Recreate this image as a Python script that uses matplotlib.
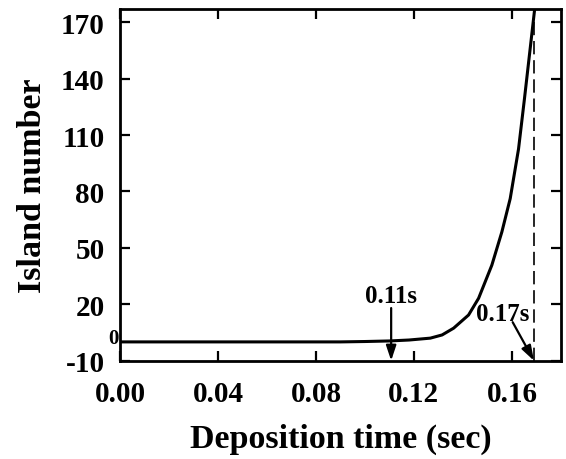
import matplotlib
matplotlib.use("Agg")
import matplotlib.pyplot as plt

# Data
time_s = [0.0, 0.05, 0.09, 0.10, 0.11, 0.118, 0.1267, 0.1315, 0.1362, 0.1423,
          0.1464, 0.1518, 0.1559, 0.1593, 0.1627, 0.1651, 0.1692]
islands = [0, 0, 0, 0.2, 0.5, 1.0, 2.0, 3.7, 7.3, 14.3,
           23.2, 40.8, 58.5, 76.2, 102.6, 129.1, 176]
x_ticks = [0.00, 0.04, 0.08, 0.12, 0.16]
x_tick_labels = ["0.00", "0.04", "0.08", "0.12", "0.16"]
y_ticks = [-10, 20, 50, 80, 110, 140, 170]
y_tick_labels = ["-10", "20", "50", "80", "110", "140", "170"]
t_start = 0.1107
t_end = 0.169

plt.rcParams['font.family'] = ['Liberation Serif', 'DejaVu Serif']
plt.rcParams['font.weight'] = 'bold'

fig = plt.figure(figsize=(5.66, 4.6), dpi=100)
ax = fig.add_axes([0.212, 0.2137, 0.779, 0.7643])

ax.plot(time_s, islands, color='black', lw=2.2, solid_joinstyle='round')
ax.axvline(t_end, color='black', lw=1.2, ls=(0, (8, 3.5)))

ax.set_xlim(0, 0.18)
ax.set_ylim(-10, 177)
ax.set_xticks(x_ticks)
ax.set_xticklabels(x_tick_labels)
ax.set_yticks(y_ticks)
ax.set_yticklabels(y_tick_labels)

for s in ax.spines.values():
    s.set_linewidth(2.0)
ax.tick_params(direction='in', length=7, width=1.6, top=True, right=True,
               labelsize=21)
ax.tick_params(axis='x', pad=14)
ax.tick_params(axis='y', pad=11)
for lab in ax.get_xticklabels() + ax.get_yticklabels():
    lab.set_fontweight('bold')

ax.set_xlabel("Deposition time (sec)", fontsize=24.5, fontweight='bold', labelpad=11)
ax.set_ylabel("Island number", fontsize=24.5, fontweight='bold', labelpad=9)

ax.text(-0.0028, 2, "0", fontsize=15, fontweight='bold', ha='center', va='center',
        clip_on=False)

arrow_kw = dict(arrowstyle='-|>,head_length=0.9,head_width=0.3', color='black',
                lw=1.6, shrinkA=0, shrinkB=0)
ax.annotate("", xy=(t_start, -10), xytext=(t_start, 18), arrowprops=arrow_kw)
ax.text(t_start, 21, "0.11s", fontsize=18, fontweight='bold', ha='center',
        va='baseline')
ax.annotate("", xy=(t_end, -10), xytext=(0.1603, 10.5), arrowprops=arrow_kw)
ax.text(0.1564, 11.5, "0.17s", fontsize=18, fontweight='bold', ha='center',
        va='baseline')

fig.savefig("out.png", dpi=100)
